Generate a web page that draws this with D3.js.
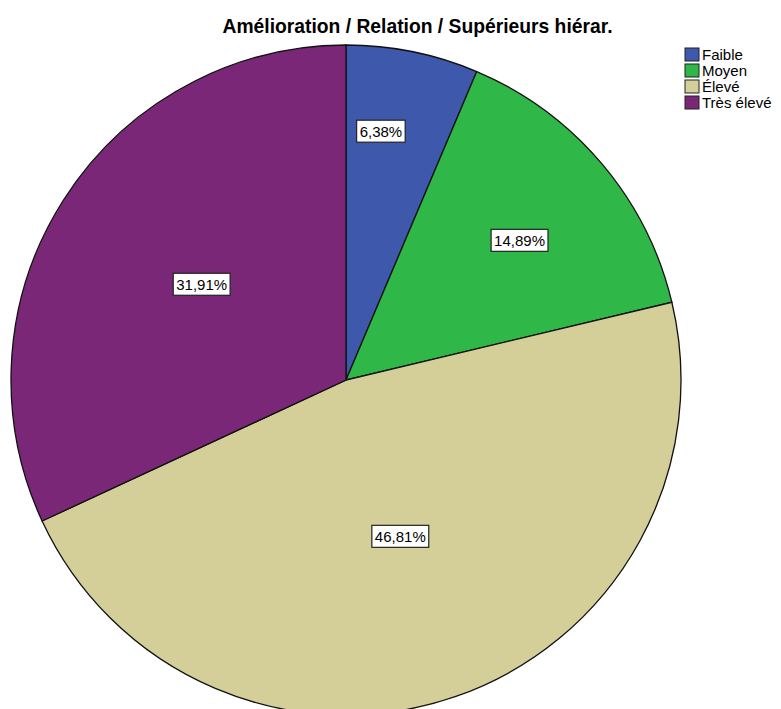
<!DOCTYPE html>
<html>
<head>
<meta charset="utf-8">
<script src="https://cdn.jsdelivr.net/npm/d3@7"></script>
<style>
  body { margin: 0; background: #fff; }
  svg { font-family: "Liberation Sans", Arial, sans-serif; }
</style>
</head>
<body>
<svg width="781" height="709"></svg>
<script>
const categories = ['Faible', 'Moyen', 'Élevé', 'Très élevé']
const values = [6.38, 14.89, 46.81, 31.91]
const colors = ['#3e58ab', '#2fb847', '#d4ce98', '#7a2778']
// label placement: fraction of radius, and angle nudge in degrees
const labelPos = [0.75, 0.665, 0.494, 0.517]
const labelShift = [-3.5, 1.4, 0, 1]

let w = 781, h = 709
let cx = 346, cy = 380, r = 335

let svg = d3.select('svg')

svg.append('text')
  .attr('x', 417.5).attr('y', 33)
  .attr('text-anchor', 'middle')
  .attr('font-size', 19.3).attr('font-weight', 'bold')
  .text('Amélioration / Relation / Supérieurs hiérar.')

let pie = d3.pie().sort(null).value(d => d)
let arcs = pie(values)
let arc = d3.arc().innerRadius(0).outerRadius(r)

let g = svg.append('g').attr('transform', `translate(${cx},${cy})`)

g.selectAll('path')
  .data(arcs).enter()
  .append('path')
  .attr('d', arc)
  .attr('fill', (d, i) => colors[i])
  .attr('stroke', '#111')
  .attr('stroke-width', 1.3)

const fmt = v => v.toFixed(2).replace('.', ',') + '%'

let labels = g.selectAll('g.lab')
  .data(arcs).enter()
  .append('g')
  .attr('class', 'lab')
  .attr('transform', (d, i) => {
    let a = (d.startAngle + d.endAngle) / 2 + labelShift[i] * Math.PI / 180
    let rr = r * labelPos[i]
    return `translate(${rr * Math.sin(a)},${-rr * Math.cos(a)})`
  })

labels.append('text')
  .attr('text-anchor', 'middle')
  .attr('dy', '0.36em')
  .attr('font-size', 15)
  .text(d => fmt(d.data))

labels.each(function () {
  let t = d3.select(this).select('text').node().getBBox()
  d3.select(this).insert('rect', 'text')
    .attr('x', t.x - 3).attr('y', -11)
    .attr('width', t.width + 6).attr('height', 22)
    .attr('fill', '#fff').attr('stroke', '#222').attr('stroke-width', 1.2)
})

let legend = svg.append('g').attr('transform', 'translate(685,48)')
let rows = legend.selectAll('g')
  .data(categories).enter()
  .append('g')
  .attr('transform', (d, i) => `translate(0,${i * 16})`)
rows.append('rect')
  .attr('width', 14).attr('height', 13)
  .attr('fill', (d, i) => colors[i])
  .attr('stroke', '#222').attr('stroke-width', 1)
rows.append('text')
  .attr('x', 17).attr('y', 12)
  .attr('font-size', 15)
  .text(d => d)
</script>
</body>
</html>
